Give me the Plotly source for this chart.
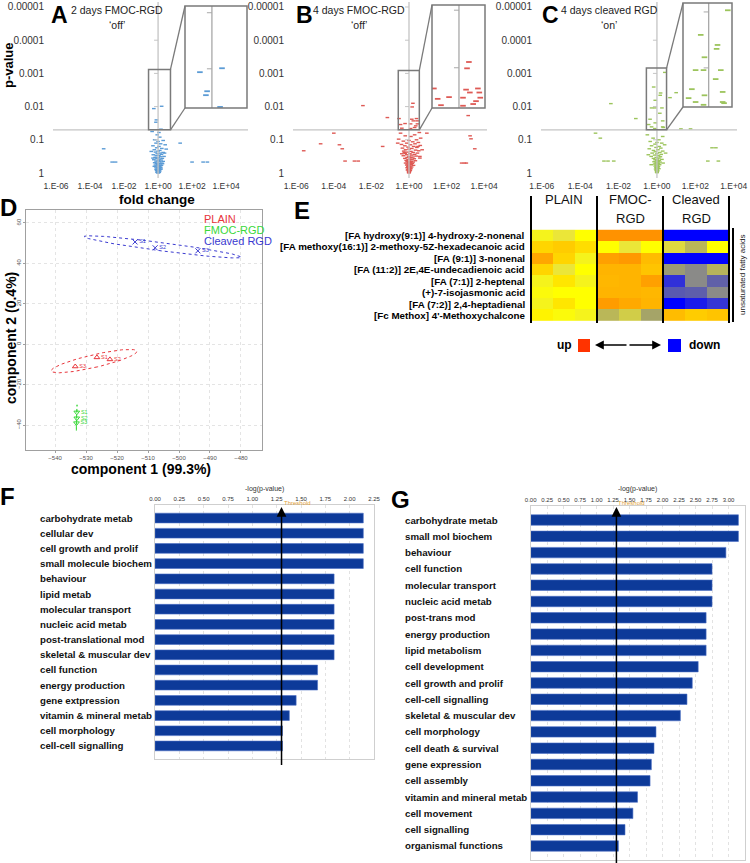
import numpy as np
import plotly.graph_objects as go

W, H = 750, 863
FONT = "Liberation Sans"

# ======================= DATA =======================
# Volcano plots: (log10 fold change, log10 p-value)
A_points = [
    (-3.2, -0.73), (-2.7, -0.33), (-2.5, -0.33), (2.0, -0.33), (2.65, -0.33), (2.9, -0.33), (1.3, -0.9),
    (0.05, -1.22), (-0.35, -1.25),
    (-0.25, -1.94), (0.21, -2.01), (-0.10, -1.60), (-0.125, -1.53), (0.17, -1.32),
    (-0.05, -1.15), (0.1, -1.08), (-0.2, -1.0), (0.3, -0.98), (0.0, -0.95), (-0.12, -0.9), (0.15, -0.88),
    (0.42, -0.85), (-0.3, -0.82), (0.05, -0.8), (-0.08, -0.76), (0.22, -0.74), (-0.22, -0.7), (0.1, -0.68),
    (0.0, -0.66), (-0.15, -0.63), (0.3, -0.62), (0.12, -0.6), (-0.05, -0.58), (0.2, -0.56), (-0.28, -0.55),
    (0.05, -0.53), (-0.1, -0.52), (0.35, -0.5), (0.15, -0.49), (-0.18, -0.47), (0.0, -0.46), (0.25, -0.44),
    (-0.07, -0.43), (0.08, -0.42), (-0.25, -0.4), (0.18, -0.39), (0.02, -0.38), (-0.12, -0.36), (0.3, -0.35),
    (0.1, -0.34), (-0.04, -0.33), (-0.2, -0.31), (0.22, -0.3), (0.06, -0.29), (-0.1, -0.28), (0.14, -0.27),
    (-0.02, -0.26), (-0.16, -0.24), (0.2, -0.23), (0.04, -0.22), (-0.08, -0.21), (0.1, -0.2), (-0.13, -0.18),
    (0.16, -0.17), (0.0, -0.16), (-0.06, -0.15), (0.08, -0.14), (-0.11, -0.12), (0.12, -0.11), (0.02, -0.1),
    (-0.04, -0.09), (0.06, -0.08), (-0.08, -0.07), (0.1, -0.06), (0.0, -0.05), (-0.03, -0.04), (0.04, -0.03),
    (-0.06, -0.02), (0.07, -0.02), (0.01, -0.01), (-0.02, -0.005), (0.03, -0.01), (-0.1, -0.1), (0.18, -0.12),
    (-0.22, -0.2), (0.26, -0.28), (-0.3, -0.45), (0.38, -0.6), (0.48, -0.72), (-0.4, -0.65),
]
B_points = [
    (-5.6, -0.67), (-4.7, -0.88), (-3.7, -0.85), (-3.55, -0.73), (-3.4, -0.36), (-2.9, -0.36), (-2.7, -0.36),
    (-2.45, -2.03), (-4.0, -1.2), (-1.4, -0.8), (-1.15, -1.67), (0.95, -1.2), (3.15, -1.73), (3.25, -1.12),
    (3.3, -1.03), (2.8, -0.3), (2.95, -0.3), (3.05, -0.3), (3.5, -0.73), (0.58, -0.45),
    (-0.53, -1.64), (-0.45, -1.46), (-0.38, -1.35), (-0.21, -1.49), (0.085, -1.48), (0.085, -1.34),
    (0.21, -2.1), (0.17, -1.99), (0.15, -1.62), (0.23, -1.57), (0.3, -1.37), (0.36, -1.42), (0.4, -1.64),
    (0.43, -1.57), (0.45, -1.48),
    (-0.45, -1.2), (0.55, -1.22), (0.3, -1.15), (-0.2, -1.12), (0.1, -1.1), (0.62, -1.05), (-0.55, -1.02),
    (0.4, -1.0), (0.0, -0.98), (-0.3, -0.96), (0.2, -0.94), (0.5, -0.92), (-0.12, -0.9), (0.32, -0.88),
    (-0.4, -0.86), (0.08, -0.85), (0.6, -0.83), (-0.22, -0.82), (0.25, -0.8), (-0.05, -0.78), (0.42, -0.77),
    (-0.35, -0.75), (0.15, -0.74), (0.0, -0.72), (-0.18, -0.7), (0.35, -0.69), (0.52, -0.67), (-0.28, -0.66),
    (0.1, -0.65), (-0.08, -0.63), (0.22, -0.62), (0.45, -0.6), (-0.2, -0.59), (0.05, -0.58), (0.3, -0.56),
    (-0.12, -0.55), (0.15, -0.54), (-0.3, -0.52), (0.38, -0.51), (0.0, -0.5), (0.2, -0.48), (-0.1, -0.47),
    (0.1, -0.46), (-0.22, -0.44), (0.28, -0.43), (0.05, -0.42), (-0.05, -0.41), (0.16, -0.4), (-0.15, -0.38),
    (0.34, -0.37), (0.02, -0.36), (0.12, -0.35), (-0.1, -0.34), (0.22, -0.33), (-0.02, -0.32), (0.08, -0.31),
    (-0.18, -0.3), (0.18, -0.29), (0.0, -0.28), (-0.08, -0.27), (0.12, -0.26), (0.04, -0.25), (-0.12, -0.24),
    (0.24, -0.23), (-0.03, -0.22), (0.08, -0.21), (0.0, -0.2), (-0.06, -0.19), (0.14, -0.18), (0.03, -0.17),
    (-0.1, -0.16), (0.06, -0.15), (-0.02, -0.14), (0.1, -0.13), (0.0, -0.12), (-0.05, -0.11), (0.04, -0.1),
    (-0.08, -0.09), (0.07, -0.08), (0.0, -0.07), (-0.03, -0.06), (0.03, -0.05), (-0.01, -0.04), (0.02, -0.03),
    (0.0, -0.02), (-0.02, -0.01), (0.01, -0.005), (0.05, -0.3), (-0.25, -0.62), (0.48, -0.8), (-0.38, -0.58),
    (0.58, -0.5), (0.7, -0.7), (-0.6, -0.9),
]
C_points = [
    (-2.4, -2.09), (-1.1, -1.64), (-3.2, -1.2), (-2.95, -1.05), (-2.76, -0.36), (-2.55, -0.36), (-2.25, -0.36),
    (1.0, -2.42), (0.68, -2.27), (1.25, -1.33), (1.75, -1.33), (2.87, -0.76), (3.07, -0.76), (2.65, -0.36),
    (3.2, -0.36),
    (0.41, -3.03), (-0.17, -2.59), (0.19, -2.41), (0.17, -2.34), (-0.09, -2.19), (-0.28, -1.96), (-0.11, -1.96),
    (0.26, -1.96), (0.15, -1.8), (-0.36, -1.62), (-0.09, -1.51), (-0.43, -1.46), (0.3, -1.57), (-0.28, -1.39),
    (-0.11, -1.34), (0.3, -1.39), (0.33, -1.37),
    (-0.5, -1.15), (0.3, -1.1), (-0.2, -1.05), (0.1, -1.0), (-0.35, -0.95), (0.0, -0.92), (0.25, -0.9),
    (-0.1, -0.87), (0.4, -0.85), (-0.28, -0.82), (0.12, -0.8), (-0.05, -0.77), (0.2, -0.75), (-0.4, -0.73),
    (0.05, -0.7), (-0.18, -0.68), (0.3, -0.66), (-0.08, -0.64), (0.15, -0.62), (-0.25, -0.6), (0.0, -0.58),
    (0.22, -0.56), (-0.12, -0.54), (0.08, -0.52), (-0.3, -0.5), (0.18, -0.49), (-0.04, -0.47), (0.1, -0.45),
    (-0.18, -0.44), (0.02, -0.42), (0.26, -0.41), (-0.1, -0.4), (0.12, -0.38), (-0.02, -0.37), (0.06, -0.35),
    (-0.15, -0.34), (0.16, -0.33), (0.0, -0.31), (-0.07, -0.3), (0.09, -0.29), (-0.12, -0.27), (0.04, -0.26),
    (0.14, -0.25), (-0.04, -0.24), (0.02, -0.22), (-0.09, -0.21), (0.08, -0.2), (0.0, -0.18), (-0.05, -0.17),
    (0.05, -0.16), (-0.02, -0.14), (0.1, -0.13), (-0.07, -0.12), (0.02, -0.11), (0.0, -0.09), (-0.04, -0.08),
    (0.04, -0.07), (-0.01, -0.06), (0.02, -0.05), (0.0, -0.04), (-0.02, -0.03), (0.01, -0.02), (0.0, -0.01),
    (-0.3, -0.25), (0.32, -0.3), (-0.45, -0.55), (0.45, -0.6),
]
VOL_XTICKS = [1e-6, 1e-4, 1e-2, 1, 1e2, 1e4]
VOL_XTICKTEXT = ["1.E-06", "1.E-04", "1.E-02", "1.E+00", "1.E+02", "1.E+04"]
VOL_YTICKS = [1e-5, 1e-4, 1e-3, 1e-2, 1e-1, 1]
VOL_YTICKTEXT = ["0.00001", "0.0001", "0.001", "0.01", "0.1", "1"]
INSET_YTICKS = [1e-2, 1e-3]
P_CUTOFF = 0.05

# PCA (D)
D_samples = ["S1", "S2", "S3"]
PLAIN_c1 = [-526.5, -522.3, -533.5]
PLAIN_c2 = [-6.5, -7.5, -11.0]
FMOC_c1 = [-533.0, -533.0, -533.1]
FMOC_c2 = [-33.7, -36.6, -39.0]
CLEAVED_c1 = [-514.2, -507.7, -493.9]
CLEAVED_c2 = [50.6, 47.7, 46.2]
D_xticks = [-540, -530, -520, -510, -500, -490, -480]
D_yticks = [-40, -20, 0, 20, 40, 60]

# Heatmap (E)
E_rows = [
    "[FA hydroxy(9:1)] 4-hydroxy-2-nonenal",
    "[FA methoxy(16:1)] 2-methoxy-5Z-hexadecanoic acid",
    "[FA (9:1)] 3-nonenal",
    "[FA (11:2)] 2E,4E-undecadienoic acid",
    "[FA (7:1)] 2-heptenal",
    "(+)-7-isojasmonic acid",
    "[FA (7:2)] 2,4-heptadienal",
    "[Fc Methox] 4'-Methoxychalcone",
]
E_cols = ["PLAIN 1", "PLAIN 2", "PLAIN 3", "FMOC-RGD 1", "FMOC-RGD 2", "FMOC-RGD 3",
          "Cleaved RGD 1", "Cleaved RGD 2", "Cleaved RGD 3"]
E_groups = [["PLAIN"], ["FMOC-", "RGD"], ["Cleaved", "RGD"]]
E_values = [
    [0.05, 0.00, 0.10, 0.72, 0.72, 0.72, -1.00, -1.00, -1.00],
    [0.30, 0.35, 0.25, 0.10, 0.00, 0.10, -0.05, -0.20, 0.10],
    [0.60, 0.30, 0.05, 0.65, 0.70, 0.45, -1.00, -1.00, -1.00],
    [0.30, 0.00, 0.10, 0.50, 0.50, 0.40, -0.35, -0.45, -0.22],
    [0.05, 0.20, 0.05, 0.48, 0.50, 0.65, -0.82, -0.45, -0.62],
    [0.08, 0.10, 0.10, 0.50, 0.50, 0.48, -0.65, -0.63, -0.45],
    [0.05, 0.20, 0.10, 0.68, 0.58, 0.50, -1.00, -0.90, -0.80],
    [0.15, 0.08, 0.05, -0.20, -0.10, -0.30, 0.45, 0.35, 0.40],
]

# Pathway bars (F, G)
F_categories = ["carbohydrate metab", "cellular dev", "cell growth and prolif", "small molecule biochem",
                "behaviour", "lipid metab", "molecular transport", "nucleic acid metab",
                "post-translational mod", "skeletal & muscular dev", "cell function", "energy production",
                "gene extpression", "vitamin & mineral metab", "cell morphology", "cell-cell signalling"]
F_values = [2.14, 2.14, 2.14, 2.14, 1.84, 1.84, 1.84, 1.84, 1.84, 1.84, 1.67, 1.67, 1.45, 1.38, 1.31, 1.31]
F_ticks = [0, 0.25, 0.5, 0.75, 1.0, 1.25, 1.5, 1.75, 2.0, 2.25]
G_categories = ["carbohydrate metab", "small mol biochem", "behaviour", "cell function", "molecular transport",
                "nucleic acid metab", "post-trans mod", "energy production", "lipid metabolism",
                "cell development", "cell growth and prolif", "cell-cell signalling", "skeletal & muscular dev",
                "cell morphology", "cell death & survival", "gene expression", "cell assembly",
                "vitamin and mineral metab", "cell movement", "cell signalling", "organismal functions"]
G_values = [3.15, 3.15, 2.96, 2.75, 2.75, 2.75, 2.66, 2.66, 2.66, 2.54, 2.45, 2.37, 2.27,
            1.90, 1.87, 1.83, 1.81, 1.62, 1.55, 1.43, 1.33]
G_ticks = [0, 0.25, 0.5, 0.75, 1.0, 1.25, 1.5, 1.75, 2.0, 2.25, 2.5, 2.75, 3.0, 3.25]
THRESHOLD = 1.30

# ======================= FIGURE =======================
def fx(p):
    return p / W

def fy(p):
    return 1 - p / H

def names(n):
    s = "" if n == 1 else str(n)
    return "x" + s, "y" + s, "xaxis" + s, "yaxis" + s

fig = go.Figure()
layout = {}
shapes = []
annots = []

def text(x, y, t, size, color="black", bold=False, xanchor="center", yanchor="middle", angle=0,
         xref="paper", yref="paper"):
    annots.append(dict(x=x, y=y, xref=xref, yref=yref, text=t, showarrow=False, xanchor=xanchor,
                       yanchor=yanchor, textangle=angle,
                       font=dict(family=FONT, size=size, color=color, weight="bold" if bold else "normal")))

VOL_YR = [0.15, -5.15]
VOL_YDOM = [fy(178), fy(2)]

def volcano(n, m, pts, color, dom, xr, box, ins_xr, ins_yr, t1, t2, tx, letter, lx):
    xm, ym, xam, yam = names(n)
    xi, yi, xai, yai = names(m)
    lf = np.array([p[0] for p in pts])
    lp = np.array([p[1] for p in pts])
    fig.add_trace(go.Scatter(x=10 ** lf, y=10 ** lp, mode="markers", hoverinfo="skip",
                             marker=dict(symbol="line-ew", size=2.6, line=dict(width=1.4, color=color)),
                             xaxis=xm, yaxis=ym))
    layout[xam] = dict(type="log", domain=[fx(dom[0]), fx(dom[1])], range=xr, anchor=ym,
                       tickvals=VOL_XTICKS, ticktext=VOL_XTICKTEXT, tickfont=dict(size=8.5, color="#333"),
                       showgrid=False, zeroline=False, showline=False, ticks="", ticklabelstandoff=1)
    layout[yam] = dict(type="log", domain=VOL_YDOM, range=VOL_YR, anchor=xm,
                       tickvals=VOL_YTICKS, ticktext=VOL_YTICKTEXT, tickfont=dict(size=10, color="#333"),
                       showgrid=False, zeroline=False, showline=False, ticks="", ticklabelstandoff=8)
    # axis lines crossing at fold=1 and p=0.05
    shapes.append(dict(type="line", xref=xm + " domain", x0=0, x1=1, yref=ym, y0=P_CUTOFF, y1=P_CUTOFF,
                       line=dict(color="#c4c4c4", width=1.3)))
    shapes.append(dict(type="line", xref=xm, x0=1, x1=1, yref=ym + " domain", y0=0, y1=1,
                       line=dict(color="#c4c4c4", width=1.3)))
    zpos = (0 - xr[0]) / (xr[1] - xr[0])
    dw = dom[1] - dom[0]
    for v in VOL_YTICKS[:-1]:
        shapes.append(dict(type="line", xref=xm + " domain", x0=zpos - 4 / dw, x1=zpos, yref=ym, y0=v, y1=v,
                           line=dict(color="#c4c4c4", width=1)))
    # zoom box on the main plot
    shapes.append(dict(type="rect", xref=xm, yref=ym, x0=10 ** ins_xr[0], x1=10 ** ins_xr[1],
                       y0=10 ** ins_yr[0], y1=10 ** ins_yr[1], line=dict(color="#7a7a7a", width=1.5)))
    sx = fx(dom[0]) + (ins_xr[1] - xr[0]) / (xr[1] - xr[0]) * (fx(dom[1]) - fx(dom[0]))

    def my(l):
        return VOL_YDOM[0] + (l - VOL_YR[0]) / (VOL_YR[1] - VOL_YR[0]) * (VOL_YDOM[1] - VOL_YDOM[0])
    shapes.append(dict(type="line", xref="paper", yref="paper", x0=sx, y0=my(ins_yr[1]), x1=fx(box[0]),
                       y1=fy(box[1]), line=dict(color="#7a7a7a", width=1.3)))
    shapes.append(dict(type="line", xref="paper", yref="paper", x0=sx, y0=my(ins_yr[0]), x1=fx(box[0]),
                       y1=fy(box[3]), line=dict(color="#7a7a7a", width=1.3)))
    # inset
    fig.add_trace(go.Scatter(x=10 ** lf, y=10 ** lp, mode="markers", hoverinfo="skip",
                             marker=dict(symbol="line-ew", size=4, line=dict(width=1.8, color=color)),
                             xaxis=xi, yaxis=yi))
    layout[xai] = dict(type="log", domain=[fx(box[0]), fx(box[2])], range=ins_xr, anchor=yi, visible=False)
    layout[yai] = dict(type="log", domain=[fy(box[3]), fy(box[1])], range=ins_yr, anchor=xi, visible=False)
    shapes.append(dict(type="line", xref=xi, x0=1, x1=1, yref=yi + " domain", y0=0, y1=1,
                       line=dict(color="#a8a8a8", width=1.3)))
    izp = (0 - ins_xr[0]) / (ins_xr[1] - ins_xr[0])
    bw = box[2] - box[0]
    for v in INSET_YTICKS:
        shapes.append(dict(type="line", xref=xi + " domain", x0=izp - 5 / bw, x1=izp, yref=yi, y0=v, y1=v,
                           line=dict(color="#a8a8a8", width=1)))
    shapes.append(dict(type="rect", xref="paper", yref="paper", x0=fx(box[0]), x1=fx(box[2]),
                       y0=fy(box[3]), y1=fy(box[1]), line=dict(color="#7a7a7a", width=1.5)))
    text(fx(tx), fy(10), t1, 10.5, "#222")
    text(fx(tx), fy(25), t2, 10.5, "#222")
    text(fx(lx), fy(0), letter, 23, bold=True, yanchor="top")

volcano(1, 2, A_points, "#5b9bd5", (53, 248), [-6.18, 5.29], (185, 6, 247, 108), [-0.56, 0.73],
        [np.log10(P_CUTOFF), -3.12], "2 days FMOC-RGD", "\u2018off\u2019", 117, "A", 59)
volcano(3, 4, B_points, "#de5a55", (293, 487), [-6.17, 4.15], (432, 5, 485, 108), [-0.57, 0.55],
        [np.log10(P_CUTOFF), -3.09], "4 days FMOC-RGD", "\u2018off\u2019", 359, "B", 304)
volcano(5, 6, C_points, "#9cc45c", (541, 737), [-6.04, 4.17], (683, 3, 732, 107), [-0.55, 0.5],
        [np.log10(P_CUTOFF), -3.16], "4 days cleaved RGD", "\u2018on\u2019", 609, "C", 550)
text(fx(8), fy(65), "p-value", 13, bold=True, angle=-90)
text(fx(157), fy(199), "fold change", 13.5, bold=True)

# ---------------- D: PCA ----------------
def conf_ellipse(xs, ys, npts=120):
    xs = np.asarray(xs, float)
    ys = np.asarray(ys, float)
    vals, vecs = np.linalg.eigh(np.cov(xs, ys))
    vals = np.clip(vals, 1e-6, None)
    t = np.linspace(0, 2 * np.pi, npts)
    circ = np.vstack([np.cos(t), np.sin(t)])
    e = vecs @ (np.sqrt(vals * 5.991)[:, None] * circ)
    return xs.mean() + e[0], ys.mean() + e[1]

D_specs = [("PLAIN", PLAIN_c1, PLAIN_c2, "#e8343a", "triangle-up-open"),
           ("FMOC-RGD", FMOC_c1, FMOC_c2, "#3ad83a", "triangle-down-open"),
           ("Cleaved RGD", CLEAVED_c1, CLEAVED_c2, "#3a3ad0", "x-thin-open")]
for name, cx, cy, col, sym in D_specs:
    ex, ey = conf_ellipse(cx, cy)
    fig.add_trace(go.Scatter(x=ex, y=ey, mode="lines", line=dict(color=col, width=1, dash="dot"),
                             xaxis="x7", yaxis="y7", hoverinfo="skip"))
    fig.add_trace(go.Scatter(x=cx, y=cy, mode="markers+text", text=D_samples, textposition="middle right",
                             textfont=dict(size=5.5, color=col), marker=dict(symbol=sym, size=5, color=col,
                             line=dict(width=1, color=col)), xaxis="x7", yaxis="y7", hoverinfo="skip"))
layout["xaxis7"] = dict(domain=[fx(26), fx(262)], range=[-549.4, -473.2], anchor="y7", tickvals=D_xticks,
                        tickfont=dict(size=6, color="#555"), showgrid=True, gridcolor="#e4e4e4", griddash="dot",
                        showline=True, linecolor="#a0a0a0", mirror=True, zeroline=False, ticks="outside",
                        ticklen=2, tickcolor="#a0a0a0", ticklabelstandoff=0)
layout["yaxis7"] = dict(domain=[fy(450), fy(210)], range=[-52.3, 66.4], anchor="x7", tickvals=D_yticks,
                        tickangle=-90, tickfont=dict(size=6, color="#555"), showgrid=True, gridcolor="#e4e4e4",
                        griddash="dot", showline=True, linecolor="#a0a0a0", mirror=True, zeroline=False,
                        ticks="outside", ticklen=2, tickcolor="#a0a0a0")
for i, (name, _, _, col, _) in enumerate(D_specs):
    text(fx(202), fy(219 + 11 * i), name, 11, col, xanchor="left")
text(fx(141), fy(469), "component 1 (99.3%)", 14, bold=True)
text(fx(11), fy(338), "component 2 (0.4%)", 14, bold=True, angle=-90)
text(fx(8), fy(208), "D", 24, bold=True)

# ---------------- E: heatmap ----------------
E_colorscale = [
    [0.0, "#0000ff"], [0.1, "#3535d5"], [0.19, "#6060a8"], [0.275, "#8a8a88"], [0.35, "#a5a468"],
    [0.425, "#c4c050"], [0.5, "#ebe638"], [0.55, "#ffff00"], [0.6, "#ffe600"], [0.675, "#ffcc00"],
    [0.75, "#ffb400"], [0.85, "#ff9900"], [1.0, "#ff3300"],
]
fig.add_trace(go.Heatmap(z=E_values, x=E_cols, y=E_rows, colorscale=E_colorscale, zmin=-1, zmax=1,
                         showscale=False, xaxis="x8", yaxis="y8", hoverinfo="skip"))
layout["xaxis8"] = dict(domain=[fx(530), fx(730)], anchor="y8", showticklabels=False, ticks="",
                        showgrid=False, zeroline=False, showline=False)
layout["yaxis8"] = dict(domain=[fy(323), fy(228)], anchor="x8", autorange="reversed", ticks="",
                        showticklabels=False, showgrid=False, zeroline=False, showline=False)
for r in E_rows:
    text(fx(527), r, r, 9.8, "black", bold=True, xanchor="right", yref="y8")
for xs in [-0.5, 2.5, 5.5, 8.5]:
    shapes.append(dict(type="line", xref="x8", yref="paper", x0=xs, x1=xs, y0=fy(323), y1=fy(196),
                       line=dict(color="black", width=2)))
for lines, col in zip(E_groups, [E_cols[1], E_cols[4], E_cols[7]]):
    for i, ln in enumerate(lines):
        text(col, fy(200 + 18 * i), ln, 13, "#111", xref="x8")
shapes.append(dict(type="line", xref="paper", yref="paper", x0=fx(733), x1=fx(733), y0=fy(322), y1=fy(228),
                   line=dict(color="black", width=2)))
text(fx(742), fy(275), "unsaturated fatty acids", 8, "#222", angle=-90)
text(fx(302), fy(211), "E", 24, bold=True)
# up/down legend
text(fx(574), fy(345), "up", 12, bold=True, xanchor="right")
shapes.append(dict(type="rect", xref="paper", yref="paper", x0=fx(578), x1=fx(590), y0=fy(352), y1=fy(339),
                   line=dict(width=0), fillcolor="#ff3300"))
shapes.append(dict(type="rect", xref="paper", yref="paper", x0=fx(668), x1=fx(681), y0=fy(352), y1=fy(339),
                   line=dict(width=0), fillcolor="#0000ff"))
text(fx(687), fy(345), "down", 12, bold=True, xanchor="left")
for xa, dx in [(595, 33), (661, -33)]:
    annots.append(dict(x=fx(xa), y=fy(345), xref="paper", yref="paper", ax=dx, ay=0, axref="pixel",
                       ayref="pixel", showarrow=True, arrowhead=2, arrowsize=1.1, arrowwidth=1.6,
                       arrowcolor="black", text=""))

# ---------------- F & G: bars ----------------
def bars(n, cats, vals, dom_x, dom_y, ticks, label_x, thr_bottom, letter, lxy):
    xb, yb, xab, yab = names(n)
    pad = 0.86
    fig.add_trace(go.Bar(x=vals, y=cats, orientation="h", width=0.64, xaxis=xb, yaxis=yb, hoverinfo="skip",
                         marker=dict(color="#0d3a99", line=dict(color="#4c6fc4", width=0.6))))
    layout[xab] = dict(domain=[fx(dom_x[0]), fx(dom_x[1])], range=[ticks[0], ticks[-1]], anchor=yb,
                       side="top", tickvals=ticks, tickformat=".2f", tickfont=dict(size=6, color="#333"),
                       showgrid=True, gridcolor="#e2e2e2", griddash="dot", showline=True,
                       linecolor="#cfcfcf", mirror=True, ticks="", zeroline=False, ticklabelstandoff=1)
    layout[yab] = dict(domain=[fy(dom_y[1]), fy(dom_y[0])], type="category",
                       range=[len(cats) - 1 + pad, -pad], anchor=xb, showticklabels=False, showgrid=False,
                       showline=True, linecolor="#cfcfcf", mirror=True, ticks="", zeroline=False)
    for c in cats:
        text(fx(label_x), c, c, 9.7, "#111", bold=True, xanchor="left", yref=yb)
    shapes.append(dict(type="line", xref=xb, x0=THRESHOLD, x1=THRESHOLD, yref="paper", y0=fy(thr_bottom),
                       y1=fy(512), line=dict(color="black", width=1.5)))
    annots.append(dict(x=THRESHOLD, y=fy(507), xref=xb, yref="paper", ax=0, ay=10, axref="pixel",
                       ayref="pixel", showarrow=True, arrowhead=2, arrowsize=1.3, arrowwidth=1.5,
                       arrowcolor="black", text=""))
    text(THRESHOLD, fy(503), "Threshold", 6, "#e2a33a", xanchor="left", xref=xb)
    text((fx(dom_x[0]) + fx(dom_x[1])) / 2, fy(489), "-log(p-value)", 7, "#333")
    text(fx(lxy[0]), fy(lxy[1]), letter, 24, bold=True)

bars(9, F_categories, F_values, (155, 374), (505, 759), F_ticks, 38, 765, "F", (7, 496))
bars(10, G_categories, G_values, (530.7, 745), (506, 860), G_ticks, 403, 863, "G", (400, 499))

for k in list(layout.keys()):
    if k.startswith("xaxis") or k.startswith("yaxis"):
        layout[k]["automargin"] = False

layout.update(dict(width=W, height=H, margin=dict(l=0, r=0, t=0, b=0), showlegend=False,
                   plot_bgcolor="white", paper_bgcolor="white", font=dict(family=FONT),
                   shapes=shapes, annotations=annots))
fig.update_layout(**layout)
# remove the browser's default 8px page margin so the 750x863 figure fills the window exactly
fig.write_html("out.html", config={"displayModeBar": False},
               post_script="document.body.style.margin='0';")
